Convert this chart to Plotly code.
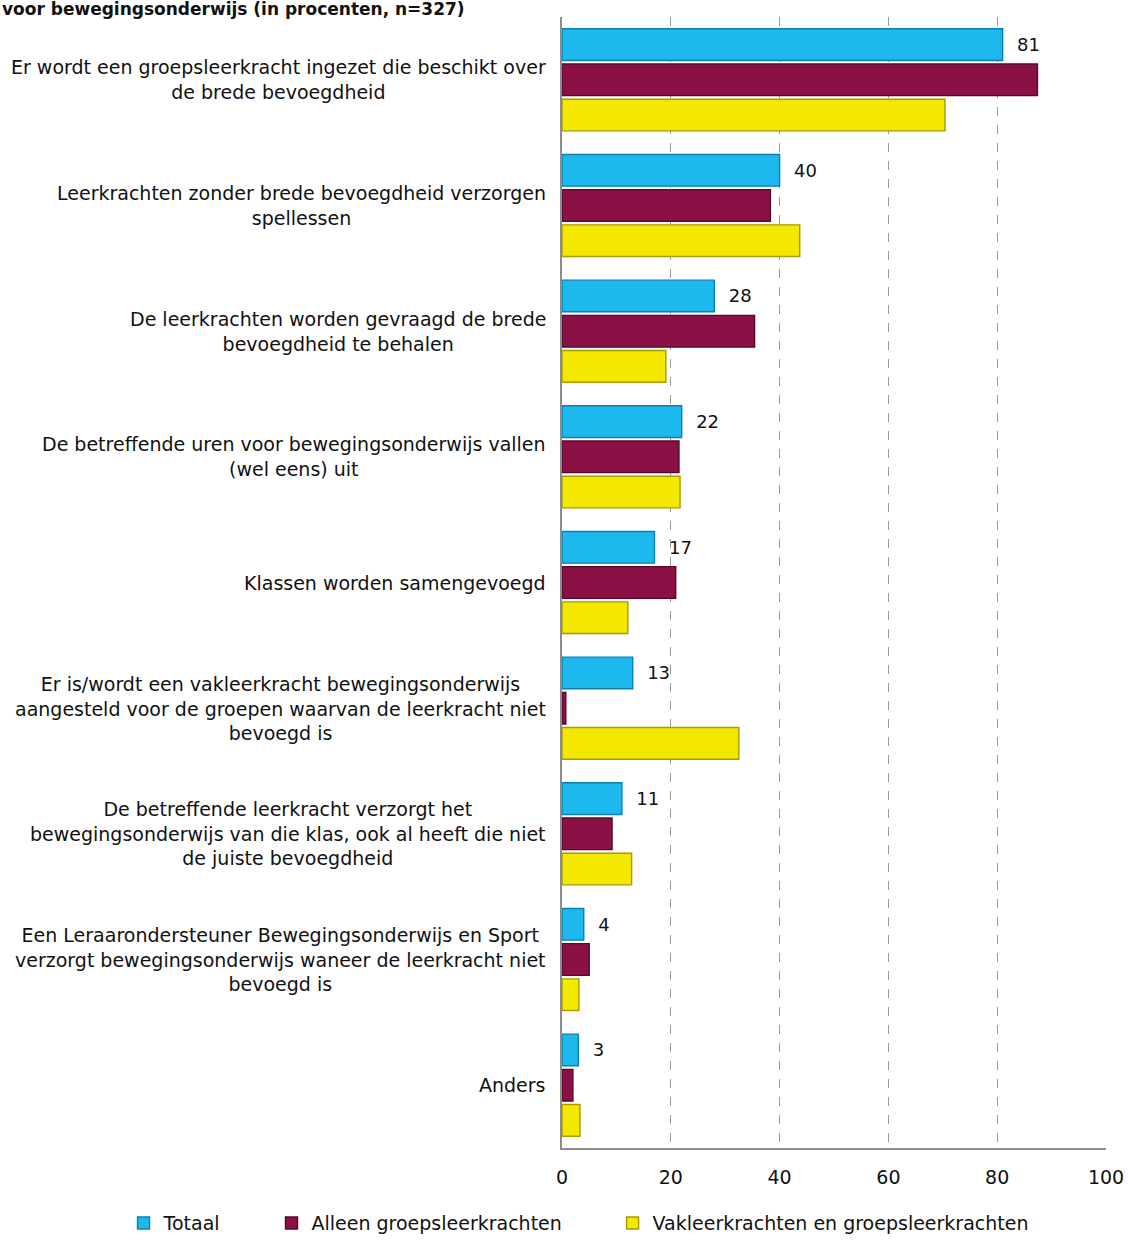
import plotly.graph_objects as go

categories = [
    "Er wordt een groepsleerkracht ingezet die beschikt over<br>de brede bevoegdheid",
    "Leerkrachten zonder brede bevoegdheid verzorgen<br>spellessen",
    "De leerkrachten worden gevraagd de brede<br>bevoegdheid te behalen",
    "De betreffende uren voor bewegingsonderwijs vallen<br>(wel eens) uit",
    "Klassen worden samengevoegd",
    "Er is/wordt een vakleerkracht bewegingsonderwijs<br>aangesteld voor de groepen waarvan de leerkracht niet<br>bevoegd is",
    "De betreffende leerkracht verzorgt het<br>bewegingsonderwijs van die klas, ook al heeft die niet<br>de juiste bevoegdheid",
    "Een Leraarondersteuner Bewegingsonderwijs en Sport<br>verzorgt bewegingsonderwijs waneer de leerkracht niet<br>bevoegd is",
    "Anders",
]
cat_ids = [f"c{i}" for i in range(len(categories))]

totaal = [81, 40, 28, 22, 17, 13, 11, 4, 3]
alleen_groep = [87.4, 38.3, 35.4, 21.5, 20.9, 0.7, 9.2, 5.0, 2.0]
vak_en_groep = [70.4, 43.7, 19.1, 21.7, 12.1, 32.5, 12.8, 3.1, 3.3]

series_names = ["Totaal", "Alleen groepsleerkrachten", "Vakleerkrachten en groepsleerkrachten"]
x_ticks = [0, 20, 40, 60, 80, 100]
title_text = "voor bewegingsonderwijs (in procenten, n=327)"

FONT = "DejaVu Sans"
colors = ["#1cb8ee", "#8a1046", "#f5e800"]
edges = ["#0a7fb2", "#55092a", "#a89a00"]

fig = go.Figure()
data = [totaal, alleen_groep, vak_en_groep]
legends = ["legend", "legend2", "legend3"]
for i, (name, vals) in enumerate(zip(series_names, data)):
    kw = {}
    if i == 0:
        kw = dict(
            text=vals,
            texttemplate="\u00a0\u00a0%{x:.0f}",
            textposition="outside",
            textfont=dict(family=FONT, size=18, color="#111111"),
            constraintext="none",
            cliponaxis=False,
        )
    fig.add_trace(go.Bar(
        name=name, y=cat_ids, x=vals, orientation="h",
        marker=dict(color=colors[i], line=dict(color=edges[i], width=1.4)),
        legend=legends[i], hoverinfo="x+name",
        **kw,
    ))

for cid, label in zip(cat_ids, categories):
    fig.add_annotation(
        x=0, xref="paper", y=cid, yref="y",
        text=label, showarrow=False, xanchor="right", yanchor="middle",
        align="center", xshift=-14,
        font=dict(family=FONT, size=19, color="#111111"),
    )

fig.add_annotation(
    x=-1.033, xref="paper", y=1.007, yref="paper",
    text=f"<b>{title_text}</b>", showarrow=False, xanchor="left", yanchor="middle",
    font=dict(family=FONT, size=17, color="#111111"),
)

leg_common = dict(orientation="h", yanchor="middle", xanchor="left", y=-0.0665,
                  font=dict(family=FONT, size=19, color="#111111"),
                  bgcolor="rgba(0,0,0,0)", itemclick=False)
fig.update_layout(
    width=1129, height=1254,
    margin=dict(l=562, r=23, t=17, b=91),
    plot_bgcolor="white", paper_bgcolor="white",
    barmode="group", bargap=0.16, bargroupgap=0.1,
    legend=dict(x=-0.806, **leg_common),
    legend2=dict(x=-0.534, **leg_common),
    legend3=dict(x=0.093, **leg_common),
    xaxis=dict(
        range=[0, 100], tickvals=x_ticks, ticktext=[str(t) for t in x_ticks],
        showgrid=True, gridcolor="#9a9a9a", griddash="dash", gridwidth=1.2,
        showline=True, linecolor="#8c8c8c", linewidth=2,
        ticks="outside", ticklen=11, tickcolor="rgba(0,0,0,0)",
        tickfont=dict(family=FONT, size=19, color="#111111"),
        zeroline=False, fixedrange=True, automargin=False,
    ),
    yaxis=dict(
        categoryorder="array", categoryarray=cat_ids, autorange="reversed",
        showticklabels=False, showline=True, linecolor="#8c8c8c", linewidth=2,
        showgrid=False, zeroline=False, fixedrange=True,
    ),
    showlegend=True,
)

fig.write_html(
    "out.html",
    config={"displayModeBar": False},
    post_script="document.body.style.margin='0';document.body.style.overflow='hidden';",
)
